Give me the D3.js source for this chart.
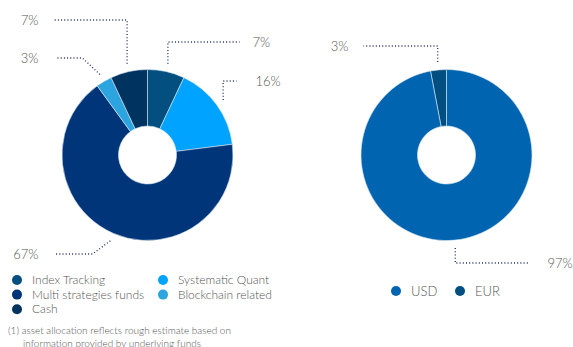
<!DOCTYPE html>
<html><head><meta charset="utf-8">
<script src="https://cdn.jsdelivr.net/npm/d3@7"></script>
<style>
body{margin:0;background:#fff;}
svg text{font-family:Lato,"Open Sans",sans-serif;font-weight:300;fill:#555;}
</style></head>
<body><svg id="c" width="573" height="347"></svg>
<script>
// Data
const strategyNames = ["Index Tracking","Systematic Quant","Multi strategies funds","Blockchain related","Cash"];
const strategyValues = [7,16,67,3,7];
const strategyColors = ["#034f80","#00a3ff","#00357a","#2ba4e0","#003360"];
const currencyNames = ["EUR","USD"];
const currencyValues = [3,97];
const currencyColors = ["#004f80","#0064b0"];
const legendLeftOrder = ["Index Tracking","Multi strategies funds","Cash","Systematic Quant","Blockchain related"];
const legendRightOrder = ["USD","EUR"];
const footnote = ["(1) asset allocation reflects rough estimate based on","information provided by underlying funds"];

const svg = d3.select("#c");
const R = 85.5, r0 = 29;

function donut(cx, cy, names, values, colors, order, labelCfg){
  const g = svg.append("g").attr("transform",`translate(${cx},${cy})`);
  const data = names.map((n,i)=>({name:n,value:values[i],color:colors[i]}));
  const pie = d3.pie().value(d=>d.value).sort(null).startAngle(order.start).endAngle(order.start+2*Math.PI);
  const arcs = pie(data);
  const arc = d3.arc().innerRadius(r0).outerRadius(R);
  g.selectAll("path.s").data(arcs).join("path").attr("class","s")
    .attr("d",arc).attr("fill",d=>d.data.color)
    .attr("stroke","#d8e8f4").attr("stroke-width",0.6);
  const anchorArc = d3.arc().innerRadius(R+8).outerRadius(R+8);
  arcs.forEach(a=>{
    const cfg = labelCfg[a.data.name];
    const [ax,ay] = anchorArc.centroid(a);
    let pts;
    if(cfg.type==="v") pts=[[ax,ay],[ax,cfg.ly],[cfg.hx,cfg.ly]];
    else pts=[[ax,ay],[cfg.ex,cfg.ly],[cfg.hx,cfg.ly]];
    g.append("path").attr("d",d3.line()(pts)).attr("fill","none")
      .attr("stroke","#1d2f5e").attr("stroke-width",1.3).attr("stroke-dasharray","1,2.2");
    g.append("text").attr("x",cfg.tx).attr("y",cfg.ly).attr("dy","0.35em")
      .attr("text-anchor",cfg.anchor).style("font-size","13px").text(a.data.value+"%");
  });
}

donut(147.5,155,strategyNames,strategyValues,strategyColors,{start:0},{
  "Cash":{type:"v",ly:-135,hx:-94,tx:-109,anchor:"end"},
  "Blockchain related":{type:"d",ex:-65,ly:-97,hx:-91,tx:-109,anchor:"end"},
  "Index Tracking":{type:"v",ly:-113,hx:92,tx:105,anchor:"start"},
  "Systematic Quant":{type:"v",ly:-74,hx:89,tx:108,anchor:"start"},
  "Multi strategies funds":{type:"d",ex:-55,ly:99,hx:-93,tx:-109,anchor:"end"}
});
donut(446.5,155,currencyNames,currencyValues,currencyColors,{start:-0.03*2*Math.PI},{
  "EUR":{type:"v",ly:-109,hx:-83,tx:-98,anchor:"end"},
  "USD":{type:"v",ly:108,hx:83,tx:101,anchor:"start"}
});

// Legends
const colorOf = {};
strategyNames.forEach((n,i)=>colorOf[n]=strategyColors[i]);
currencyNames.forEach((n,i)=>colorOf[n]=currencyColors[i]);
const leftLeg = svg.append("g");
legendLeftOrder.forEach((n,i)=>{
  const col = i<3?0:1, row = i<3?i:i-3;
  const x = 17 + col*146, y = 280 + row*14.6;
  leftLeg.append("circle").attr("cx",x).attr("cy",y).attr("r",5).attr("fill",colorOf[n]);
  leftLeg.append("text").attr("x",x+15).attr("y",y).attr("dy","0.35em").style("font-size","12px").text(n);
});
const rightLeg = svg.append("g");
legendRightOrder.forEach((n,i)=>{
  const x = 396 + i*64, y = 291;
  rightLeg.append("circle").attr("cx",x).attr("cy",y).attr("r",5).attr("fill",colorOf[n]);
  rightLeg.append("text").attr("x",x+15).attr("y",y).attr("dy","0.35em").style("font-size","13px").text(n);
});
// Footnote
svg.append("text").attr("x",8).attr("y",330).attr("dy","0.35em").style("font-size","10px").text(footnote[0]);
svg.append("text").attr("x",23).attr("y",343).attr("dy","0.35em").style("font-size","10px").text(footnote[1]);
</script></body></html>
